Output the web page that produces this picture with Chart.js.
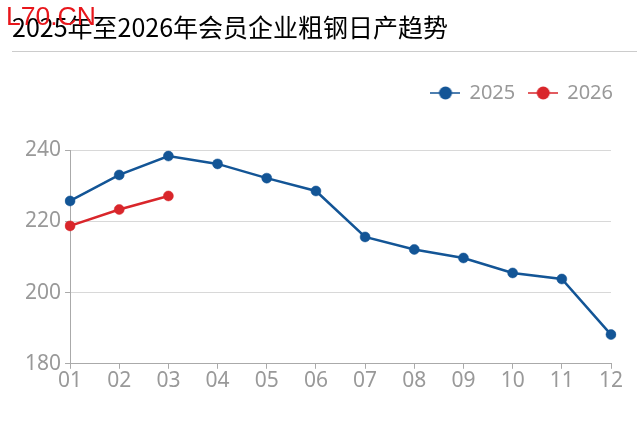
<!DOCTYPE html>
<html>
<head>
<meta charset="utf-8">
<script src="https://cdn.jsdelivr.net/npm/chart.js@4/dist/chart.umd.min.js"></script>
<style>
  body { margin: 0; background: #fff; }
  #wrap { position: relative; width: 643px; height: 430px; overflow: hidden; }
  #title { position: absolute; left: 12px; top: 9px; font: 25px "Noto Sans CJK SC", sans-serif; color: #000; white-space: nowrap; line-height: 34px; }
  #mark { position: absolute; left: 6px; top: 2px; font: 26.5px "Liberation Sans", sans-serif; color: #e8161b; line-height: 28px; }
  #rule { position: absolute; left: 12px; right: 6px; top: 51px; border-top: 1px solid #ccc; }
  #chart { position: absolute; left: 0; top: 0; }
</style>
</head>
<body>
<div id="wrap">
  <canvas id="chart" width="643" height="430"></canvas>
  <div id="title">2025年至2026年会员企业粗钢日产趋势</div>
  <div id="mark">L70.CN</div>
  <div id="rule"></div>
</div>
<script>
document.addEventListener("DOMContentLoaded", function () {
  const months = ["01", "02", "03", "04", "05", "06", "07", "08", "09", "10", "11", "12"];
  const y2025 = [225.7, 233.0, 238.3, 236.1, 232.1, 228.5, 215.6, 212.1, 209.7, 205.5, 203.8, 188.2];
  const y2026 = [218.7, 223.3, 227.1];
  const blue = "#135596";
  const red = "#d9262b";

  // legend marker: short line with a dot in the middle
  function marker(color) {
    const c = document.createElement("canvas");
    c.width = 30; c.height = 14;
    const g = c.getContext("2d");
    g.strokeStyle = color; g.lineWidth = 1.5;
    g.beginPath(); g.moveTo(0, 7); g.lineTo(30, 7); g.stroke();
    g.fillStyle = color;
    g.beginPath(); g.arc(15, 7, 6.5, 0, Math.PI * 2); g.fill();
    return c;
  }

  // move the legend up / right after layout (chart area stays put)
  const legendShift = {
    id: "legendShift",
    afterLayout(chart) {
      const lg = chart.legend;
      lg.left += 16; lg.right += 16;
      lg.top -= 37; lg.bottom -= 37;
    }
  };

  const ctx = document.getElementById("chart").getContext("2d");
  new Chart(ctx, {
    type: "line",
    data: {
      labels: months,
      datasets: [
        {
          label: "2025",
          data: y2025,
          borderColor: blue,
          backgroundColor: blue,
          borderWidth: 2.5,
          pointRadius: 5,
          pointBorderWidth: 0.5,
          tension: 0
        },
        {
          label: "2026",
          data: y2026,
          borderColor: red,
          backgroundColor: red,
          borderWidth: 2.5,
          pointRadius: 5,
          pointBorderWidth: 0.5,
          tension: 0
        }
      ]
    },
    options: {
      responsive: false,
      animation: false,
      layout: { padding: { top: 106, left: 21, right: 32, bottom: 36 } },
      scales: {
        x: {
          offset: false,
          grid: { drawOnChartArea: false, color: "#aaa", tickLength: 5 },
          border: { color: "#aaa" },
          ticks: { color: "#999", font: { size: 21, family: "Noto Sans" }, padding: 0, maxRotation: 0 }
        },
        y: {
          min: 180,
          max: 240,
          ticks: { stepSize: 20, color: "#999", font: { size: 21, family: "Noto Sans" }, padding: 4 },
          grid: { color: "#d8d8d8", tickLength: 5, tickColor: "#aaa" },
          border: { color: "#aaa" }
        }
      },
      plugins: {
        legend: {
          position: "top",
          align: "end",
          labels: {
            usePointStyle: true,
            pointStyleWidth: 28,
            boxHeight: 14,
            color: "#999",
            font: { size: 20, family: "Noto Sans" },
            padding: 14,
            generateLabels: function (chart) {
              return chart.data.datasets.map(function (ds, i) {
                return {
                  text: ds.label,
                  fillStyle: ds.borderColor,
                  strokeStyle: ds.borderColor,
                  lineWidth: 0,
                  pointStyle: marker(ds.borderColor),
                  datasetIndex: i,
                  hidden: false,
                  fontColor: "#999"
                };
              });
            }
          }
        },
        tooltip: { enabled: false }
      }
    },
    plugins: [legendShift]
  });
});
</script>
</body>
</html>
